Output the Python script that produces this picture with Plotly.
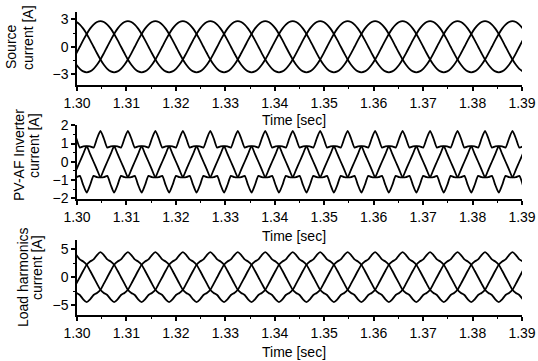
import plotly.graph_objects as go

# ---------------- data ----------------
time_s = [
    1.29918, 1.29987, 1.30057, 1.30126, 1.30196, 1.30265, 1.30335, 1.30404, 1.30474, 1.30543, 1.30612, 1.30682,
    1.30751, 1.30821, 1.30890, 1.30960, 1.31029, 1.31099, 1.31168, 1.31237, 1.31307, 1.31376, 1.31446, 1.31515,
    1.31585, 1.31654, 1.31724, 1.31793, 1.31863, 1.31932, 1.32002, 1.32071, 1.32141, 1.32210, 1.32279, 1.32349,
    1.32418, 1.32488, 1.32557, 1.32627, 1.32696, 1.32766, 1.32835, 1.32904, 1.32974, 1.33043, 1.33113, 1.33182,
    1.33252, 1.33321, 1.33391, 1.33460, 1.33530, 1.33599, 1.33669, 1.33738, 1.33807, 1.33877, 1.33946, 1.34016,
    1.34085, 1.34155, 1.34224, 1.34293, 1.34363, 1.34432, 1.34502, 1.34571, 1.34641, 1.34710, 1.34780, 1.34849,
    1.34918, 1.34988, 1.35057, 1.35127, 1.35196, 1.35266, 1.35335, 1.35405, 1.35474, 1.35543, 1.35613, 1.35682,
    1.35752, 1.35821, 1.35891, 1.35960, 1.36029, 1.36099, 1.36168, 1.36238, 1.36307, 1.36377, 1.36446, 1.36516,
    1.36585, 1.36654, 1.36724, 1.36793, 1.36863, 1.36932, 1.37002, 1.37071, 1.37141, 1.37210, 1.37279, 1.37349,
    1.37418, 1.37488, 1.37557, 1.37627, 1.37696, 1.37766, 1.37835, 1.37904, 1.37974, 1.38043, 1.38113, 1.38182,
    1.38252, 1.38321, 1.38391, 1.38460, 1.38530, 1.38599, 1.38668, 1.38738, 1.38807, 1.38877, 1.38946, 1.39016,
]

source_a = [
    2.8, 2.7, 2.42, 1.98, 1.4, 0.72, 0, -0.72, -1.4, -1.98, -2.42, -2.7, -2.8, -2.7, -2.42, -1.98, -1.4, -0.72, 0, 0.72, 1.4, 1.98, 2.42, 2.7,
    2.8, 2.7, 2.42, 1.98, 1.4, 0.72, 0, -0.72, -1.4, -1.98, -2.42, -2.7, -2.8, -2.7, -2.42, -1.98, -1.4, -0.72, 0, 0.72, 1.4, 1.98, 2.42, 2.7,
    2.8, 2.7, 2.42, 1.98, 1.4, 0.72, 0, -0.72, -1.4, -1.98, -2.42, -2.7, -2.8, -2.7, -2.42, -1.98, -1.4, -0.72, 0, 0.72, 1.4, 1.98, 2.42, 2.7,
    2.8, 2.7, 2.42, 1.98, 1.4, 0.72, 0, -0.72, -1.4, -1.98, -2.42, -2.7, -2.8, -2.7, -2.42, -1.98, -1.4, -0.72, 0, 0.72, 1.4, 1.98, 2.42, 2.7,
    2.8, 2.7, 2.42, 1.98, 1.4, 0.72, 0, -0.72, -1.4, -1.98, -2.42, -2.7, -2.8, -2.7, -2.42, -1.98, -1.4, -0.72, 0, 0.72, 1.4, 1.98, 2.42, 2.7,
    2.8, 2.7, 2.42, 1.98, 1.4, 0.72, 0, -0.72, -1.4, -1.98, -2.42, -2.7,
]
source_b = [
    -1.4, -0.72, 0, 0.72, 1.4, 1.98, 2.42, 2.7, 2.8, 2.7, 2.42, 1.98, 1.4, 0.72, 0, -0.72, -1.4, -1.98, -2.42, -2.7, -2.8, -2.7, -2.42, -1.98,
    -1.4, -0.72, 0, 0.72, 1.4, 1.98, 2.42, 2.7, 2.8, 2.7, 2.42, 1.98, 1.4, 0.72, 0, -0.72, -1.4, -1.98, -2.42, -2.7, -2.8, -2.7, -2.42, -1.98,
    -1.4, -0.72, 0, 0.72, 1.4, 1.98, 2.42, 2.7, 2.8, 2.7, 2.42, 1.98, 1.4, 0.72, 0, -0.72, -1.4, -1.98, -2.42, -2.7, -2.8, -2.7, -2.42, -1.98,
    -1.4, -0.72, 0, 0.72, 1.4, 1.98, 2.42, 2.7, 2.8, 2.7, 2.42, 1.98, 1.4, 0.72, 0, -0.72, -1.4, -1.98, -2.42, -2.7, -2.8, -2.7, -2.42, -1.98,
    -1.4, -0.72, 0, 0.72, 1.4, 1.98, 2.42, 2.7, 2.8, 2.7, 2.42, 1.98, 1.4, 0.72, 0, -0.72, -1.4, -1.98, -2.42, -2.7, -2.8, -2.7, -2.42, -1.98,
    -1.4, -0.72, 0, 0.72, 1.4, 1.98, 2.42, 2.7, 2.8, 2.7, 2.42, 1.98,
]
source_c = [
    -1.4, -1.98, -2.42, -2.7, -2.8, -2.7, -2.42, -1.98, -1.4, -0.72, 0, 0.72, 1.4, 1.98, 2.42, 2.7, 2.8, 2.7, 2.42, 1.98, 1.4, 0.72, 0, -0.72,
    -1.4, -1.98, -2.42, -2.7, -2.8, -2.7, -2.42, -1.98, -1.4, -0.72, 0, 0.72, 1.4, 1.98, 2.42, 2.7, 2.8, 2.7, 2.42, 1.98, 1.4, 0.72, 0, -0.72,
    -1.4, -1.98, -2.42, -2.7, -2.8, -2.7, -2.42, -1.98, -1.4, -0.72, 0, 0.72, 1.4, 1.98, 2.42, 2.7, 2.8, 2.7, 2.42, 1.98, 1.4, 0.72, 0, -0.72,
    -1.4, -1.98, -2.42, -2.7, -2.8, -2.7, -2.42, -1.98, -1.4, -0.72, 0, 0.72, 1.4, 1.98, 2.42, 2.7, 2.8, 2.7, 2.42, 1.98, 1.4, 0.72, 0, -0.72,
    -1.4, -1.98, -2.42, -2.7, -2.8, -2.7, -2.42, -1.98, -1.4, -0.72, 0, 0.72, 1.4, 1.98, 2.42, 2.7, 2.8, 2.7, 2.42, 1.98, 1.4, 0.72, 0, -0.72,
    -1.4, -1.98, -2.42, -2.7, -2.8, -2.7, -2.42, -1.98, -1.4, -0.72, 0, 0.72,
]

inverter_a = [
    1.7, 1.28, 0.78, 0.85, 0.85, 0.43, 0, -0.43, -0.85, -0.85, -0.78, -1.28, -1.7, -1.28, -0.78, -0.85, -0.85, -0.43, 0, 0.43, 0.85, 0.85, 0.78, 1.28,
    1.7, 1.28, 0.78, 0.85, 0.85, 0.43, 0, -0.43, -0.85, -0.85, -0.78, -1.28, -1.7, -1.28, -0.78, -0.85, -0.85, -0.43, 0, 0.43, 0.85, 0.85, 0.78, 1.28,
    1.7, 1.28, 0.78, 0.85, 0.85, 0.43, 0, -0.43, -0.85, -0.85, -0.78, -1.28, -1.7, -1.28, -0.78, -0.85, -0.85, -0.43, 0, 0.43, 0.85, 0.85, 0.78, 1.28,
    1.7, 1.28, 0.78, 0.85, 0.85, 0.43, 0, -0.43, -0.85, -0.85, -0.78, -1.28, -1.7, -1.28, -0.78, -0.85, -0.85, -0.43, 0, 0.43, 0.85, 0.85, 0.78, 1.28,
    1.7, 1.28, 0.78, 0.85, 0.85, 0.43, 0, -0.43, -0.85, -0.85, -0.78, -1.28, -1.7, -1.28, -0.78, -0.85, -0.85, -0.43, 0, 0.43, 0.85, 0.85, 0.78, 1.28,
    1.7, 1.28, 0.78, 0.85, 0.85, 0.43, 0, -0.43, -0.85, -0.85, -0.78, -1.28,
]
inverter_b = [
    -0.85, -0.43, 0, 0.43, 0.85, 0.85, 0.78, 1.28, 1.7, 1.28, 0.78, 0.85, 0.85, 0.43, 0, -0.43, -0.85, -0.85, -0.78, -1.28, -1.7, -1.28, -0.78, -0.85,
    -0.85, -0.43, 0, 0.43, 0.85, 0.85, 0.78, 1.28, 1.7, 1.28, 0.78, 0.85, 0.85, 0.43, 0, -0.43, -0.85, -0.85, -0.78, -1.28, -1.7, -1.28, -0.78, -0.85,
    -0.85, -0.43, 0, 0.43, 0.85, 0.85, 0.78, 1.28, 1.7, 1.28, 0.78, 0.85, 0.85, 0.43, 0, -0.43, -0.85, -0.85, -0.78, -1.28, -1.7, -1.28, -0.78, -0.85,
    -0.85, -0.43, 0, 0.43, 0.85, 0.85, 0.78, 1.28, 1.7, 1.28, 0.78, 0.85, 0.85, 0.43, 0, -0.43, -0.85, -0.85, -0.78, -1.28, -1.7, -1.28, -0.78, -0.85,
    -0.85, -0.43, 0, 0.43, 0.85, 0.85, 0.78, 1.28, 1.7, 1.28, 0.78, 0.85, 0.85, 0.43, 0, -0.43, -0.85, -0.85, -0.78, -1.28, -1.7, -1.28, -0.78, -0.85,
    -0.85, -0.43, 0, 0.43, 0.85, 0.85, 0.78, 1.28, 1.7, 1.28, 0.78, 0.85,
]
inverter_c = [
    -0.85, -0.85, -0.78, -1.28, -1.7, -1.28, -0.78, -0.85, -0.85, -0.43, 0, 0.43, 0.85, 0.85, 0.78, 1.28, 1.7, 1.28, 0.78, 0.85, 0.85, 0.43, 0, -0.43,
    -0.85, -0.85, -0.78, -1.28, -1.7, -1.28, -0.78, -0.85, -0.85, -0.43, 0, 0.43, 0.85, 0.85, 0.78, 1.28, 1.7, 1.28, 0.78, 0.85, 0.85, 0.43, 0, -0.43,
    -0.85, -0.85, -0.78, -1.28, -1.7, -1.28, -0.78, -0.85, -0.85, -0.43, 0, 0.43, 0.85, 0.85, 0.78, 1.28, 1.7, 1.28, 0.78, 0.85, 0.85, 0.43, 0, -0.43,
    -0.85, -0.85, -0.78, -1.28, -1.7, -1.28, -0.78, -0.85, -0.85, -0.43, 0, 0.43, 0.85, 0.85, 0.78, 1.28, 1.7, 1.28, 0.78, 0.85, 0.85, 0.43, 0, -0.43,
    -0.85, -0.85, -0.78, -1.28, -1.7, -1.28, -0.78, -0.85, -0.85, -0.43, 0, 0.43, 0.85, 0.85, 0.78, 1.28, 1.7, 1.28, 0.78, 0.85, 0.85, 0.43, 0, -0.43,
    -0.85, -0.85, -0.78, -1.28, -1.7, -1.28, -0.78, -0.85, -0.85, -0.43, 0, 0.43,
]

load_a = [
    4.5, 3.99, 3.2, 2.83, 2.25, 1.16, 0, -1.16, -2.25, -2.83, -3.2, -3.99, -4.5, -3.99, -3.2, -2.83, -2.25, -1.16, 0, 1.16, 2.25, 2.83, 3.2, 3.99,
    4.5, 3.99, 3.2, 2.83, 2.25, 1.16, 0, -1.16, -2.25, -2.83, -3.2, -3.99, -4.5, -3.99, -3.2, -2.83, -2.25, -1.16, 0, 1.16, 2.25, 2.83, 3.2, 3.99,
    4.5, 3.99, 3.2, 2.83, 2.25, 1.16, 0, -1.16, -2.25, -2.83, -3.2, -3.99, -4.5, -3.99, -3.2, -2.83, -2.25, -1.16, 0, 1.16, 2.25, 2.83, 3.2, 3.99,
    4.5, 3.99, 3.2, 2.83, 2.25, 1.16, 0, -1.16, -2.25, -2.83, -3.2, -3.99, -4.5, -3.99, -3.2, -2.83, -2.25, -1.16, 0, 1.16, 2.25, 2.83, 3.2, 3.99,
    4.5, 3.99, 3.2, 2.83, 2.25, 1.16, 0, -1.16, -2.25, -2.83, -3.2, -3.99, -4.5, -3.99, -3.2, -2.83, -2.25, -1.16, 0, 1.16, 2.25, 2.83, 3.2, 3.99,
    4.5, 3.99, 3.2, 2.83, 2.25, 1.16, 0, -1.16, -2.25, -2.83, -3.2, -3.99,
]
load_b = [
    -2.25, -1.16, 0, 1.16, 2.25, 2.83, 3.2, 3.99, 4.5, 3.99, 3.2, 2.83, 2.25, 1.16, 0, -1.16, -2.25, -2.83, -3.2, -3.99, -4.5, -3.99, -3.2, -2.83,
    -2.25, -1.16, 0, 1.16, 2.25, 2.83, 3.2, 3.99, 4.5, 3.99, 3.2, 2.83, 2.25, 1.16, 0, -1.16, -2.25, -2.83, -3.2, -3.99, -4.5, -3.99, -3.2, -2.83,
    -2.25, -1.16, 0, 1.16, 2.25, 2.83, 3.2, 3.99, 4.5, 3.99, 3.2, 2.83, 2.25, 1.16, 0, -1.16, -2.25, -2.83, -3.2, -3.99, -4.5, -3.99, -3.2, -2.83,
    -2.25, -1.16, 0, 1.16, 2.25, 2.83, 3.2, 3.99, 4.5, 3.99, 3.2, 2.83, 2.25, 1.16, 0, -1.16, -2.25, -2.83, -3.2, -3.99, -4.5, -3.99, -3.2, -2.83,
    -2.25, -1.16, 0, 1.16, 2.25, 2.83, 3.2, 3.99, 4.5, 3.99, 3.2, 2.83, 2.25, 1.16, 0, -1.16, -2.25, -2.83, -3.2, -3.99, -4.5, -3.99, -3.2, -2.83,
    -2.25, -1.16, 0, 1.16, 2.25, 2.83, 3.2, 3.99, 4.5, 3.99, 3.2, 2.83,
]
load_c = [
    -2.25, -2.83, -3.2, -3.99, -4.5, -3.99, -3.2, -2.83, -2.25, -1.16, 0, 1.16, 2.25, 2.83, 3.2, 3.99, 4.5, 3.99, 3.2, 2.83, 2.25, 1.16, 0, -1.16,
    -2.25, -2.83, -3.2, -3.99, -4.5, -3.99, -3.2, -2.83, -2.25, -1.16, 0, 1.16, 2.25, 2.83, 3.2, 3.99, 4.5, 3.99, 3.2, 2.83, 2.25, 1.16, 0, -1.16,
    -2.25, -2.83, -3.2, -3.99, -4.5, -3.99, -3.2, -2.83, -2.25, -1.16, 0, 1.16, 2.25, 2.83, 3.2, 3.99, 4.5, 3.99, 3.2, 2.83, 2.25, 1.16, 0, -1.16,
    -2.25, -2.83, -3.2, -3.99, -4.5, -3.99, -3.2, -2.83, -2.25, -1.16, 0, 1.16, 2.25, 2.83, 3.2, 3.99, 4.5, 3.99, 3.2, 2.83, 2.25, 1.16, 0, -1.16,
    -2.25, -2.83, -3.2, -3.99, -4.5, -3.99, -3.2, -2.83, -2.25, -1.16, 0, 1.16, 2.25, 2.83, 3.2, 3.99, 4.5, 3.99, 3.2, 2.83, 2.25, 1.16, 0, -1.16,
    -2.25, -2.83, -3.2, -3.99, -4.5, -3.99, -3.2, -2.83, -2.25, -1.16, 0, 1.16,
]

x_title = "Time [sec]"
y_titles = [("Source", "current [A]"), ("PV-AF Inverter", "current [A]"), ("Load harmonics", "current [A]")]

# ---------------- figure ----------------
W, H = 538, 361
FONT = "Liberation Sans, Arial, sans-serif"

fig = go.Figure()
groups = [
    ((source_a, source_b, source_c), "x", "y", 1.0),
    ((inverter_a, inverter_b, inverter_c), "x2", "y2", 0.6),
    ((load_a, load_b, load_c), "x3", "y3", 0.7),
]
for series, xa, ya, sm in groups:
    for s in series:
        fig.add_trace(go.Scatter(x=time_s, y=s, mode="lines", xaxis=xa, yaxis=ya,
                                 line=dict(color="black", width=1.8, shape="spline", smoothing=sm),
                                 hoverinfo="skip", showlegend=False))

def px_x(p):
    return p / W

def px_y(p):
    return 1 - p / H

xdom = [px_x(77), px_x(522)]
ydoms = [[px_y(85), px_y(12)], [px_y(199), px_y(124.5)], [px_y(315), px_y(240)]]
yranges = [[-4.19, 3.8], [-2.05, 2.05], [-6.8, 6.7]]
ydt = [(3, 1.5), (1, 0.5), (5, 2.5)]

common_axis = dict(showline=True, linecolor="black", linewidth=1.5, ticks="outside", ticklen=4,
                   tickwidth=1.5, tickcolor="black", showgrid=False, zeroline=False, automargin=False,
                   tickfont=dict(family=FONT, size=14, color="black"))
layout = dict(width=W, height=H, margin=dict(l=0, r=0, t=0, b=0, pad=0, autoexpand=False),
              paper_bgcolor="white", plot_bgcolor="white", showlegend=False)
for i in range(3):
    sfx = "" if i == 0 else str(i + 1)
    layout["xaxis" + sfx] = dict(common_axis, domain=xdom, range=[1.30, 1.39], tickmode="linear",
                                 tick0=1.30, dtick=0.01, tickformat=".2f", anchor="y" + sfx,
                                 minor=dict(dtick=0.005, ticklen=2, tickwidth=1, tickcolor="black", ticks="outside"))
    layout["yaxis" + sfx] = dict(common_axis, domain=ydoms[i], range=yranges[i], tickmode="linear",
                                 tick0=0, dtick=ydt[i][0], anchor="x" + sfx,
                                 minor=dict(dtick=ydt[i][1], ticklen=2, tickwidth=1, tickcolor="black", ticks="outside"))
fig.update_layout(**layout)

ann = []
for yp in (120, 236, 352):
    ann.append(dict(text=x_title, x=px_x(294), y=px_y(yp), xref="paper", yref="paper",
                    showarrow=False, xanchor="center", yanchor="middle",
                    font=dict(family=FONT, size=14, color="black")))
ytitle_pos = [((10.5, 46.5), (27.5, 37.5)), ((19, 155), (34, 146)), ((23, 277), (37, 268))]
for (l1, l2), ((x1, y1), (x2, y2)) in zip(y_titles, ytitle_pos):
    for txt, xx, yy in ((l1, x1, y1), (l2, x2, y2)):
        ann.append(dict(text=txt, x=px_x(xx), y=px_y(yy), xref="paper", yref="paper",
                        showarrow=False, xanchor="center", yanchor="middle", textangle=-90,
                        font=dict(family=FONT, size=14, color="black")))
fig.update_layout(annotations=ann)

fig.write_html("out.html", config={"displayModeBar": False},
               post_script="document.body.style.margin='0px';document.body.style.padding='0px';")
